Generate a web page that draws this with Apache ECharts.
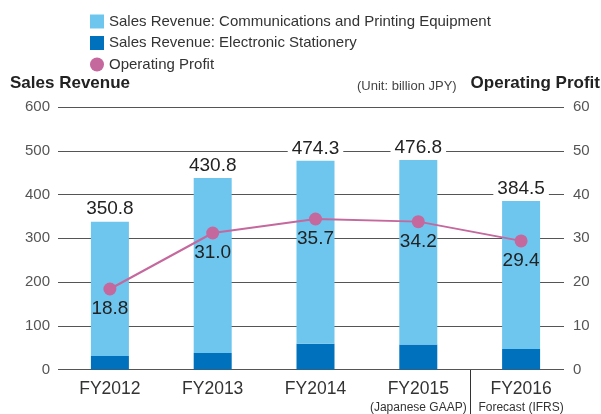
<!DOCTYPE html>
<html>
<head>
<meta charset="utf-8">
<script src="https://cdn.jsdelivr.net/npm/echarts@6/dist/echarts.min.js"></script>
<style>
html,body{margin:0;padding:0;background:#fff;}
#c{width:601px;height:414px;}
</style>
</head>
<body>
<div id="c"></div>
<script>
var categories = ["FY2012", "FY2013", "FY2014", "FY2015", "FY2016"];
var subLabels = ["", "", "", "(Japanese GAAP)", "Forecast (IFRS)"];
var electronicStationery = [31, 38, 59, 57, 47];
var commPrinting = [307, 400, 418, 422, 338];
var operatingProfit = [18.4, 31.2, 34.4, 33.8, 29.4];
var totalLabels = ["350.8", "430.8", "474.3", "476.8", "384.5"];
var profitLabels = ["18.8", "31.0", "35.7", "34.2", "29.4"];
var leftTicks = [0, 600, 100];
var rightTicks = [0, 60, 10];

var FONT = '"Liberation Sans", Arial, Helvetica, sans-serif';
var chart = echarts.init(document.getElementById('c'), null, {renderer: 'canvas'});

var option = {
  animation: false,
  textStyle: {fontFamily: FONT},
  legend: {
    orient: 'vertical',
    left: 85,
    top: 9,
    itemWidth: 14,
    itemHeight: 14,
    itemGap: 6.5,
    textStyle: {fontSize: 15, color: '#333', fontFamily: FONT},
    data: [
      {name: 'Sales Revenue: Communications and Printing Equipment', icon: 'rect'},
      {name: 'Sales Revenue: Electronic Stationery', icon: 'rect'},
      {name: 'Operating Profit', icon: 'circle'}
    ]
  },
  grid: [
    {left: 58.5, right: 28.5, top: 107, bottom: 44.5, containLabel: false},
    {left: 58, right: 37, top: 107, bottom: 44.5, containLabel: false}
  ],
  xAxis: [
    {
      type: 'category',
      gridIndex: 0,
      data: categories,
      axisLine: {show: false},
      axisTick: {show: false},
      axisLabel: {
        margin: 10,
        interval: 0,
        formatter: function (v, i) {
          return '{a|' + v + '}' + (subLabels[i] ? '\n{b|' + subLabels[i] + '}' : '');
        },
        rich: {
          a: {fontSize: 17.5, color: '#333', lineHeight: 20, fontFamily: FONT},
          b: {fontSize: 12, color: '#333', lineHeight: 16, fontFamily: FONT}
        }
      }
    },
    {type: 'value', gridIndex: 1, min: 0, max: 1, show: false}
  ],
  yAxis: [
    {
      type: 'value', gridIndex: 0, min: leftTicks[0], max: leftTicks[1], interval: leftTicks[2],
      show: false
    },
    {
      type: 'value', gridIndex: 0, min: rightTicks[0], max: rightTicks[1], interval: rightTicks[2],
      show: false
    },
    {
      type: 'value', gridIndex: 1, min: leftTicks[0], max: leftTicks[1], interval: leftTicks[2],
      position: 'left',
      axisLine: {show: false}, axisTick: {show: false},
      axisLabel: {fontSize: 15, color: '#555', margin: 8, fontFamily: FONT},
      splitLine: {show: true, lineStyle: {color: '#555', width: 1}}
    },
    {
      type: 'value', gridIndex: 1, min: rightTicks[0], max: rightTicks[1], interval: rightTicks[2],
      position: 'right',
      axisLine: {show: false}, axisTick: {show: false},
      axisLabel: {fontSize: 15, color: '#555', margin: 9, fontFamily: FONT},
      splitLine: {show: false}
    }
  ],
  series: [
    {
      name: 'Sales Revenue: Electronic Stationery',
      type: 'bar', stack: 'rev', barWidth: 38,
      xAxisIndex: 0, yAxisIndex: 0,
      itemStyle: {color: '#0071BC'},
      z: 3,
      data: electronicStationery
    },
    {
      name: 'Sales Revenue: Communications and Printing Equipment',
      type: 'bar', stack: 'rev', barWidth: 38,
      xAxisIndex: 0, yAxisIndex: 0,
      itemStyle: {color: '#6EC6EE'},
      z: 3,
      label: {
        show: true, position: 'top', distance: 3,
        formatter: function (p) { return totalLabels[p.dataIndex]; },
        fontSize: 19, color: '#222', fontFamily: FONT,
        backgroundColor: '#fff', padding: [1, 4, 0, 4]
      },
      data: commPrinting
    },
    {
      name: 'Operating Profit',
      type: 'line', xAxisIndex: 0, yAxisIndex: 1,
      symbol: 'circle', symbolSize: 13,
      itemStyle: {color: '#C4689D'},
      lineStyle: {color: '#C4689D', width: 2},
      label: {
        show: true, position: 'bottom', distance: 4,
        formatter: function (p) { return profitLabels[p.dataIndex]; },
        fontSize: 19, color: '#222', fontFamily: FONT
      },
      z: 5,
      data: operatingProfit
    }
  ],
  graphic: [
    {type: 'text', left: 10, top: 75, style: {text: 'Sales Revenue', font: 'bold 17px ' + FONT, fill: '#222'}},
    {type: 'text', left: 357, top: 80, style: {text: '(Unit: billion JPY)', font: '13px ' + FONT, fill: '#444'}},
    {type: 'text', right: 1, top: 75, style: {text: 'Operating Profit', font: 'bold 17px ' + FONT, fill: '#222'}},
    {type: 'line', shape: {x1: 470.5, y1: 369.5, x2: 470.5, y2: 414}, style: {stroke: '#333', lineWidth: 1}}
  ]
};
chart.setOption(option);
</script>
</body>
</html>
